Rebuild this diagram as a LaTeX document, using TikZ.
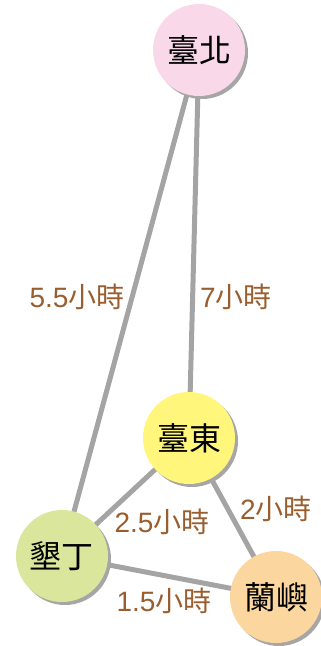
\documentclass[tikz,border=0pt]{standalone}
\usepackage{fontspec}
\setmainfont{Liberation Sans}
\newfontfamily\cjk{Noto Sans CJK TC}
\usetikzlibrary{shadows,backgrounds}
\definecolor{edgegray}{HTML}{A4A4A4}
\definecolor{lblbrown}{HTML}{9A5E2E}
\definecolor{cpink}{HTML}{F9D9E9}
\definecolor{cyellow}{HTML}{FFF67B}
\definecolor{cgreen}{HTML}{DAE69C}
\definecolor{corange}{HTML}{FBD69F}
\tikzset{
  city/.style={circle, minimum size=92pt, inner sep=0pt, font=\cjk\fontsize{32}{36}\selectfont,
    drop shadow={shadow xshift=3pt, shadow yshift=-3pt, fill=black!35, opacity=1}},
  road/.style={draw=edgegray, line width=5pt},
  lbl/.style={text=lblbrown, inner sep=0pt, font=\fontsize{28}{32}\selectfont},
}
\newcommand{\hr}[1]{#1{\cjk 小時}}
\begin{document}
\begin{tikzpicture}[x=1pt,y=1pt]
\useasboundingbox (0,0) rectangle (321,-646);
\node[city, fill=cpink] (tp) at (199,-50) {臺北};
\node[city, fill=cyellow] (tt) at (189,-438) {臺東};
\node[city, fill=cgreen] (kd) at (62,-556) {墾丁};
\node[city, fill=corange] (ly) at (276,-597) {蘭嶼};
\begin{pgfonlayer}{background}
\draw[road] (tp.center) -- (kd.center);
\draw[road] (tp.center) -- (tt.center);
\draw[road] (tt.center) -- (kd.center);
\draw[road] (tt.center) -- (ly.center);
\draw[road] (kd.center) -- (ly.center);
\end{pgfonlayer}
\node[lbl] (l1) at (77,-297) {\hr{5.5}};
\node[lbl] (l2) at (236,-297) {\hr{7}};
\node[lbl] (l3) at (162,-522) {\hr{2.5}};
\node[lbl] (l4) at (276,-509) {\hr{2}};
\node[lbl] (l5) at (164,-601) {\hr{1.5}};
\end{tikzpicture}
\end{document}
